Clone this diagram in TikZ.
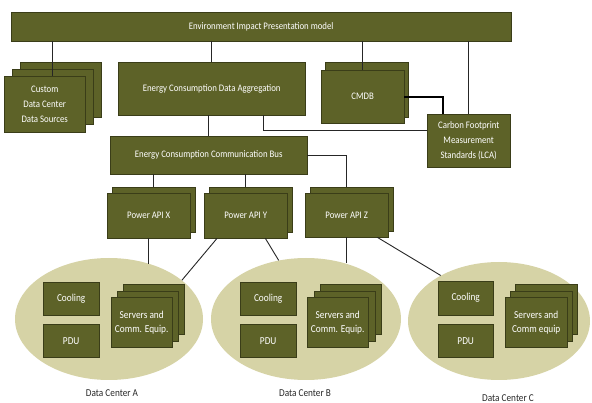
\documentclass[tikz,border=0pt]{standalone}
\usepackage{fontspec}
\setmainfont{Carlito}[FakeStretch=0.88]
\usepackage{tikz}
\usetikzlibrary{shapes.geometric}

\definecolor{boxolive}{RGB}{93,98,40}
\definecolor{boxedge}{RGB}{58,61,24}
\definecolor{dcfill}{RGB}{214,211,166}

\tikzset{
  olivebox/.style={draw=boxedge, fill=boxolive, text=white, anchor=north west,
    inner sep=0pt, align=center, font=\fontsize{10}{15}\selectfont},
  unitbox/.style={olivebox, font=\fontsize{10.6}{14}\selectfont},
  backbox/.style={draw=boxedge, fill=boxolive, anchor=north west, inner sep=0pt},
  dcellipse/.style={ellipse, fill=dcfill, inner sep=0pt},
  wire/.style={draw=black!85, line width=0.9pt},
  dclabel/.style={font=\fontsize{10.5}{12}\selectfont, text=black!85}
}

\begin{document}
\begin{tikzpicture}[x=1pt,y=-1pt]
\useasboundingbox (0,0) rectangle (592,403);

% data centers
\node[dcellipse, minimum width=188, minimum height=122] (dca) at (109,319) {};
\node[dcellipse, minimum width=190, minimum height=122] (dcb) at (306,319) {};
\node[dcellipse, minimum width=182, minimum height=118] (dcc) at (499,321) {};

% top row
\node[olivebox, minimum width=500, minimum height=29] (top) at (11,12) {Environment Impact Presentation model};
\node[backbox, minimum width=81, minimum height=55] (custombk) at (20,62) {};
\node[backbox, minimum width=81, minimum height=55] (custommid) at (12,69) {};
\node[olivebox, minimum width=81, minimum height=56] (custom) at (4,76) {Custom\\Data Center\\Data Sources};
\node[olivebox, minimum width=187, minimum height=53] (agg) at (118,62) {Energy Consumption Data Aggregation};
\node[backbox, minimum width=83, minimum height=55] (cmdbbk) at (325,62) {};
\node[olivebox, minimum width=83, minimum height=53] (cmdb) at (321,70) {CMDB};
\node[olivebox, minimum width=83, minimum height=53] (carbon) at (427,114) {Carbon Footprint\\Measurement\\Standards (LCA)};
\node[olivebox, minimum width=197, minimum height=38] (bus) at (110,136) {Energy Consumption Communication Bus};

% power APIs
\node[backbox, minimum width=83, minimum height=45] (apixbk) at (112,187) {};
\node[olivebox, minimum width=83, minimum height=45] (apix) at (107,193) {Power API X};
\node[backbox, minimum width=83, minimum height=45] (apiybk) at (209,187) {};
\node[olivebox, minimum width=83, minimum height=45] (apiy) at (204,193) {Power API Y};
\node[backbox, minimum width=83, minimum height=44] (apizbk) at (310,187) {};
\node[olivebox, minimum width=83, minimum height=44] (apiz) at (305,193) {Power API Z};

% connectors
\draw[wire] (custommid.north |- top.south) -- (custommid.north |- custom.north);
\draw[wire] (agg.north |- top.south) -- (agg.north);
\draw[wire] (cmdb.north |- top.south) -- (cmdb.north);
\draw[wire] (carbon.north |- top.south) -- (carbon.north);
\draw[draw=black, line width=2.2pt] (cmdb.east) -| ([xshift=-25.5pt]carbon.north);
\draw[wire] ([xshift=51.5pt]agg.south) |- ([yshift=10.5pt]carbon.west);
\draw[wire] (bus.north |- agg.south) -- (bus.north);
\draw[wire] (apixbk.north |- bus.south) -- (apixbk.north);
\draw[wire] (apiy.north |- bus.south) -- (apiy.north |- apiybk.north);
\draw[wire] (bus.east) -| (apiz.north |- apizbk.north);
\draw[wire] (apix.south) -- (apix.south |- dca.53);
\draw[wire] ([xshift=13pt]apiy.south west) -- (dca.28);
\draw[wire] ([xshift=-22pt]apiy.south east) -- (dcb.115);
\draw[wire] (apiz.south) -- (apiz.south |- dcb.56);
\draw[wire] ([xshift=-11pt]apiz.south east) -- (dcc.142);

% data center A
\node[unitbox, minimum width=56, minimum height=33] (coola) at (43,282) {Cooling};
\node[unitbox, minimum width=56, minimum height=33] (pdua) at (43,324) {PDU};
\node[backbox, minimum width=61, minimum height=50] (srvabk) at (123,284) {};
\node[backbox, minimum width=61, minimum height=50] (srvamid) at (117,291) {};
\node[unitbox, minimum width=61, minimum height=50] (srva) at (111,297) {Servers and\\Comm. Equip.};

% data center B
\node[unitbox, minimum width=56, minimum height=33] (coolb) at (240,282) {Cooling};
\node[unitbox, minimum width=56, minimum height=33] (pdub) at (240,324) {PDU};
\node[backbox, minimum width=61, minimum height=50] (srvbbk) at (320,284) {};
\node[backbox, minimum width=61, minimum height=50] (srvbmid) at (314,291) {};
\node[unitbox, minimum width=61, minimum height=50] (srvb) at (307,297) {Servers and\\Comm. Equip.};

% data center C
\node[unitbox, minimum width=55, minimum height=34] (coolc) at (438,281) {Cooling};
\node[unitbox, minimum width=55, minimum height=33] (pduc) at (438,324) {PDU};
\node[backbox, minimum width=62, minimum height=50] (srvcbk) at (515,284) {};
\node[backbox, minimum width=62, minimum height=50] (srvcmid) at (510,291) {};
\node[unitbox, minimum width=62, minimum height=50] (srvc) at (505,297) {Servers and\\Comm equip};

\node[dclabel] (laba) at (112,393) {Data Center A};
\node[dclabel] (labb) at (305,393) {Data Center B};
\node[dclabel] (labc) at (508,398) {Data Center C};
\end{tikzpicture}
\end{document}
